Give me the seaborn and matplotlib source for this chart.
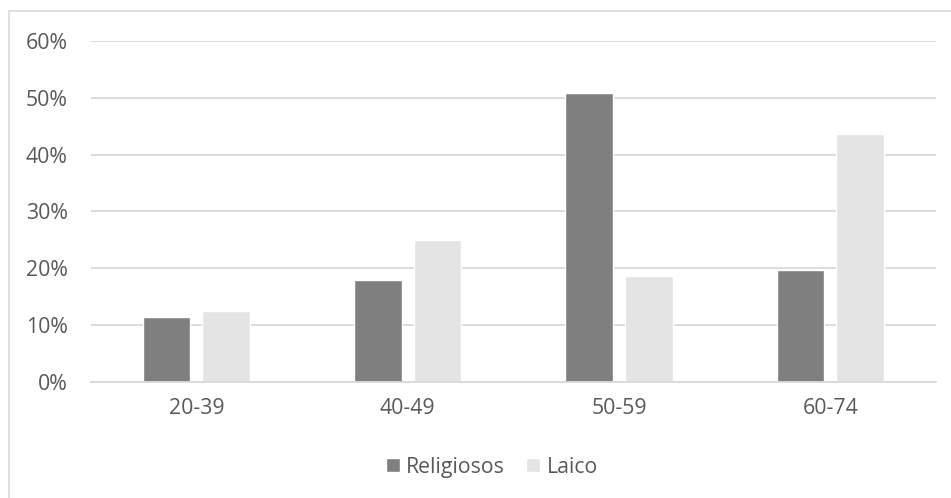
import matplotlib
matplotlib.use("Agg")
import matplotlib.pyplot as plt
from matplotlib.patches import Rectangle
from matplotlib.ticker import PercentFormatter
import pandas as pd
import seaborn as sns

# Age groups and the share of each group per series
age_groups = ["20-39", "40-49", "50-59", "60-74"]
religiosos = [0.114, 0.179, 0.508, 0.197]
laico = [0.124, 0.249, 0.187, 0.436]
series_names = ["Religiosos", "Laico"]
y_ticks = [0.0, 0.1, 0.2, 0.3, 0.4, 0.5, 0.6]

df = pd.DataFrame({
    "grupo": age_groups * 2,
    "serie": [series_names[0]] * len(age_groups) + [series_names[1]] * len(age_groups),
    "valor": religiosos + laico,
})

sns.set_theme(style="white")
plt.rcParams["font.family"] = ["Open Sans", "DejaVu Sans"]

W, H = 951, 498
fig = plt.figure(figsize=(W / 100, H / 100), dpi=100)
ax = fig.add_axes([90.7 / W, 1 - 381.7 / H, (936 - 90.7) / W, (381.7 - 41) / H])

text_color = "#595959"
grid_color = "#d9d9d9"
fs = 15.3

sns.barplot(
    data=df, x="grupo", y="valor", hue="serie", order=age_groups,
    hue_order=series_names, palette=["#7f7f7f", "#e4e4e4"],
    saturation=1, width=0.563, gap=0.2, ax=ax, legend=True,
)

ax.set_xlim(-0.5, len(age_groups) - 0.5)
ax.set_ylim(0, 0.6)
ax.set_yticks(y_ticks)
ax.yaxis.set_major_formatter(PercentFormatter(1.0, decimals=0))
ax.grid(axis="y", color=grid_color, linewidth=1.3)
ax.set_axisbelow(True)
for side in ["top", "right", "left"]:
    ax.spines[side].set_visible(False)
ax.spines["bottom"].set_color(grid_color)
ax.spines["bottom"].set_linewidth(1.3)
ax.set_xlabel("")
ax.set_ylabel("")
ax.tick_params(axis="both", length=0, labelsize=fs, labelcolor=text_color)
ax.tick_params(axis="y", pad=16.5)
ax.tick_params(axis="x", pad=12)

handles, labels = ax.get_legend_handles_labels()
ax.get_legend().remove()
leg = fig.legend(
    handles, labels, loc="center", bbox_to_anchor=(492 / W, 1 - 467 / H),
    ncol=2, frameon=False, fontsize=fs, handlelength=0.66, handleheight=0.66,
    handletextpad=0.3, columnspacing=1.0, labelcolor=text_color,
)

# Light chart border
fig.patches.append(Rectangle((9 / W, -0.05), 1.0, 1 - 11 / H + 0.05,
                             transform=fig.transFigure, fill=False,
                             edgecolor="#d9d9d9", linewidth=1.2))

fig.savefig("out.png", dpi=100)
